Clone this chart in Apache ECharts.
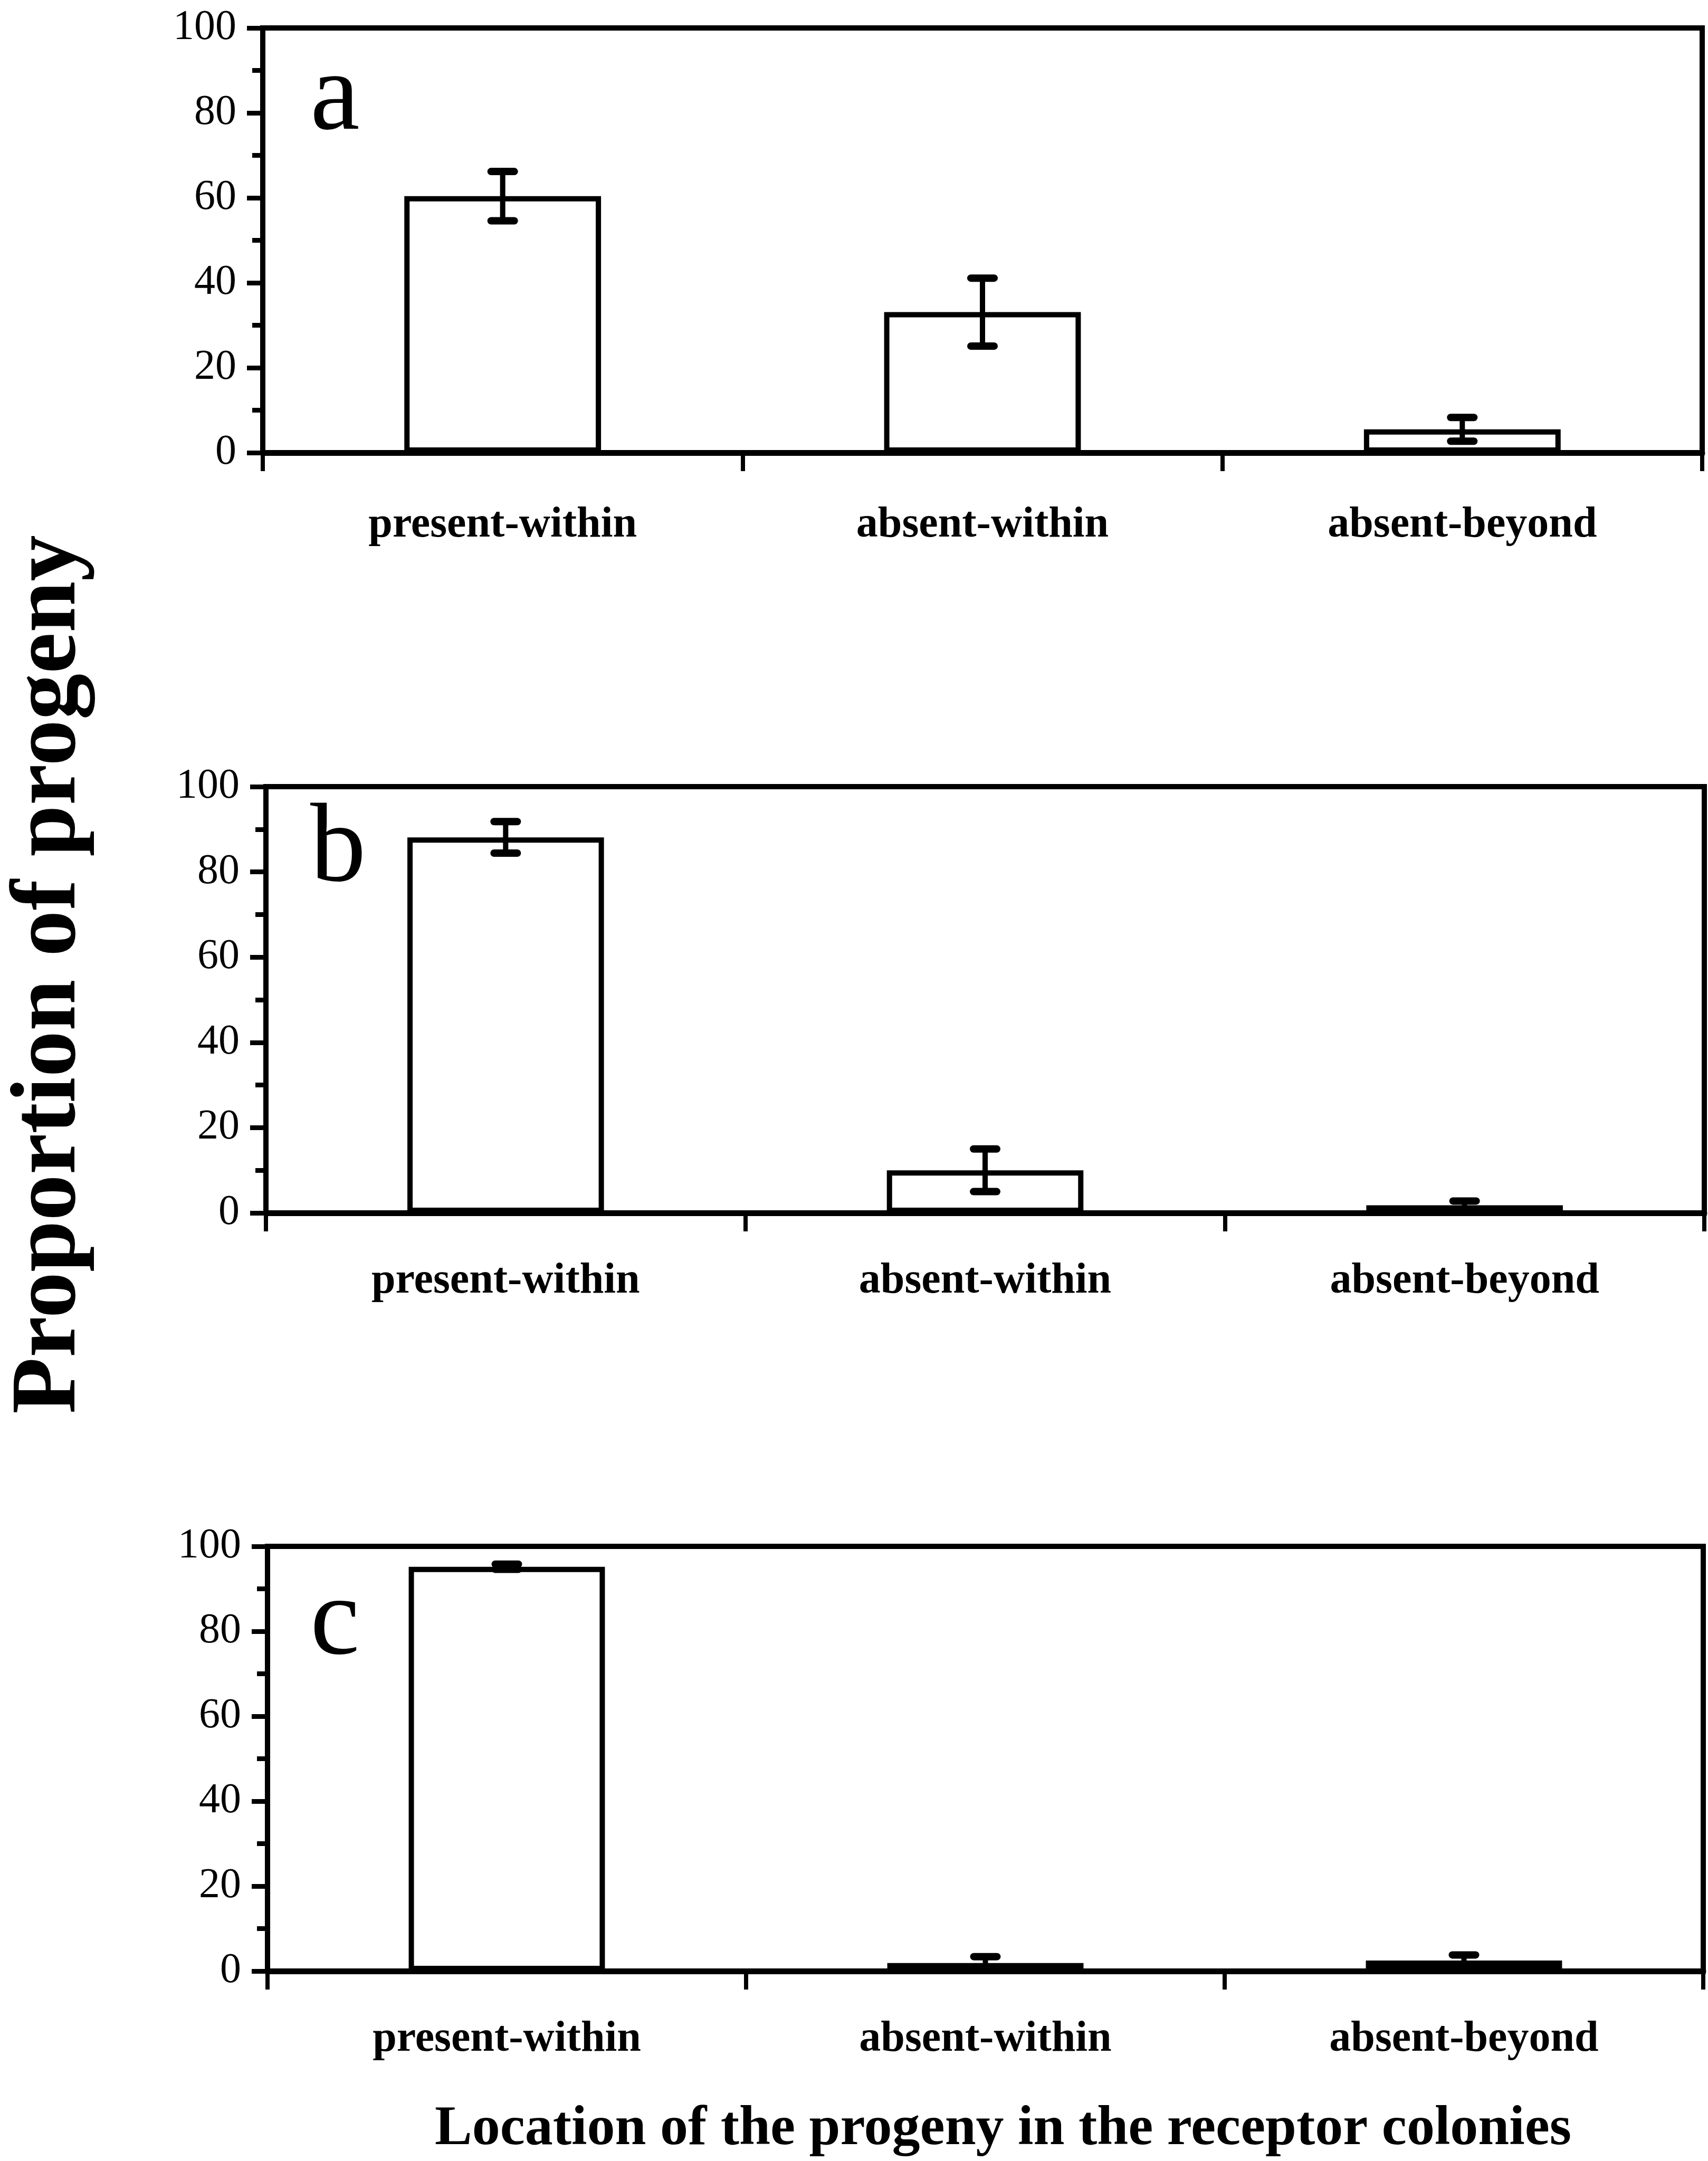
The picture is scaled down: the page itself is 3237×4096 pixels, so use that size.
<!DOCTYPE html>
<html>
<head>
<meta charset="utf-8">
<script src="https://cdn.jsdelivr.net/npm/echarts@6/dist/echarts.min.js"></script>
<style>
  html, body { margin: 0; padding: 0; background: #fff; }
  #chart { width: 3237px; height: 4096px; }
</style>
</head>
<body>
<div id="chart"></div>
<script>
// Categories and tick values shared by the three panels
const categories = ['present-within', 'absent-within', 'absent-beyond'];
const yTicks = [0, 20, 40, 60, 80, 100];
const panelLetters = ['a', 'b', 'c'];

// Mean proportion of progeny (%) and error half-widths, per panel
const meansA = [60.4, 33.1, 5.5];
const errorsA = [5.8, 8.0, 2.8];
const meansB = [88.1, 10.0, 1.8];
const errorsB = [3.7, 5.0, 1.0];
const meansC = [95.2, 1.9, 2.5];
const errorsC = [0.6, 1.5, 1.3];

const yTitle = 'Proportion of progeny';
const xTitle = 'Location of the progeny in the receptor colonies';

const panelMeans = [meansA, meansB, meansC];
const panelErrors = [errorsA, errorsB, errorsC];

// Layout of each panel's plotting box (px)
const grids = [
  { left: 498, top: 53,   width: 2728, height: 805 },
  { left: 504, top: 1491, width: 2726, height: 808 },
  { left: 507, top: 2931, width: 2721, height: 805 }
];
const labelMargins = [138, 130, 130];
const letterY = [189, 1614, 3079];

const SERIF = '"Liberation Serif", "Times New Roman", serif';
const INK = '#000';

function errorBarItem(params, api) {
  const idx = api.value(0);
  const m = api.value(1);
  const e = api.value(2);
  const hi = api.coord([idx, m + e]);
  const lo = api.coord([idx, m - e]);
  const half = 22;
  return {
    type: 'group',
    children: [
      { type: 'line', shape: { x1: hi[0], y1: hi[1], x2: lo[0], y2: lo[1] },
        style: { stroke: INK, lineWidth: 10 } },
      { type: 'line', shape: { x1: hi[0] - half, y1: hi[1], x2: hi[0] + half, y2: hi[1] },
        style: { stroke: INK, lineWidth: 14, lineCap: 'round' } },
      { type: 'line', shape: { x1: lo[0] - half, y1: lo[1], x2: lo[0] + half, y2: lo[1] },
        style: { stroke: INK, lineWidth: 14, lineCap: 'round' } }
    ]
  };
}

const option = {
  animation: false,
  backgroundColor: '#fff',
  grid: grids.map(g => Object.assign({
    show: true, borderColor: INK, borderWidth: 10, backgroundColor: 'transparent', containLabel: false
  }, g)),
  xAxis: grids.map((g, i) => ({
    type: 'category',
    gridIndex: i,
    data: categories,
    boundaryGap: true,
    axisLine: { show: true, lineStyle: { color: INK, width: 11 } },
    axisTick: { show: true, interval: 0, inside: false, length: 35, lineStyle: { color: INK, width: 8 } },
    axisLabel: {
      interval: 0, margin: labelMargins[i], color: INK,
      fontFamily: SERIF, fontWeight: 'bold', fontSize: 82, verticalAlign: 'middle'
    },
    splitLine: { show: false }
  })),
  yAxis: grids.map((g, i) => ({
    type: 'value',
    gridIndex: i,
    min: yTicks[0],
    max: yTicks[yTicks.length - 1],
    interval: yTicks[1] - yTicks[0],
    axisLine: { show: true, lineStyle: { color: INK, width: 10 } },
    axisTick: { show: true, inside: false, length: 30, lineStyle: { color: INK, width: 9 } },
    minorTick: { show: true, splitNumber: 2, length: 20, lineStyle: { color: INK, width: 9 } },
    axisLabel: { margin: 50, color: INK, fontFamily: SERIF, fontSize: 80 },
    splitLine: { show: false },
    minorSplitLine: { show: false }
  })),
  series: [],
  graphic: [
    {
      type: 'text', x: 96, y: 1847, rotation: Math.PI / 2,
      style: { text: yTitle, fill: INK, fontFamily: SERIF, fontWeight: 'bold', fontSize: 175,
               align: 'center', verticalAlign: 'middle' }
    },
    {
      type: 'text', x: 1901, y: 4037,
      style: { text: xTitle, fill: INK, fontFamily: SERIF, fontWeight: 'bold', fontSize: 106,
               align: 'center', verticalAlign: 'middle' }
    }
  ].concat(panelLetters.map((t, i) => ({
    type: 'text', x: 588, y: letterY[i],
    style: { text: t, fill: INK, fontFamily: SERIF, fontSize: 211, align: 'left', verticalAlign: 'middle' }
  })))
};

panelMeans.forEach((means, i) => {
  option.series.push({
    type: 'bar',
    xAxisIndex: i, yAxisIndex: i,
    data: means,
    barWidth: '41%',
    itemStyle: { color: '#fff', borderColor: INK, borderWidth: 10 },
    z: 2
  });
  option.series.push({
    type: 'custom',
    xAxisIndex: i, yAxisIndex: i,
    data: means.map((m, k) => [k, m, panelErrors[i][k]]),
    encode: { x: 0, y: 1 },
    renderItem: errorBarItem,
    z: 5
  });
});

const chart = echarts.init(document.getElementById('chart'), null, { renderer: 'canvas' });
chart.setOption(option);
</script>
</body>
</html>
